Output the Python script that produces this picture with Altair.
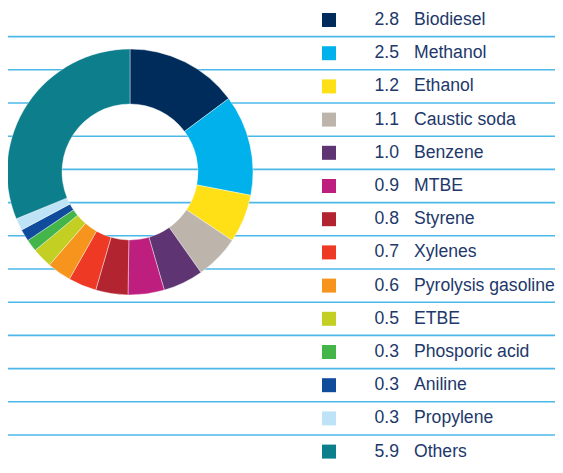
import altair as alt
import pandas as pd

labels = ["Biodiesel", "Methanol", "Ethanol", "Caustic soda", "Benzene", "MTBE",
          "Styrene", "Xylenes", "Pyrolysis gasoline", "ETBE", "Phosporic acid",
          "Aniline", "Propylene", "Others"]
values = [2.8, 2.5, 1.2, 1.1, 1.0, 0.9, 0.8, 0.7, 0.6, 0.5, 0.3, 0.3, 0.3, 5.9]
value_text = ["2.8", "2.5", "1.2", "1.1", "1.0", "0.9", "0.8", "0.7", "0.6", "0.5",
              "0.3", "0.3", "0.3", "5.9"]
colors = ["#002c5c", "#00b1eb", "#ffe016", "#bdb5ab", "#5e3473", "#be1e7d",
          "#b22530", "#ee3a24", "#f7941d", "#c3cf22", "#43b549", "#0f4d9c",
          "#bfe3f6", "#0d7e8c"]

W, H = 547, 457
STEP = 33.2
TOP = 12
df = pd.DataFrame({
    "label": labels,
    "value": values,
    "vtext": value_text,
    "row": list(range(len(labels))),
})
df["line"] = df["row"] - 0.5

# row i centred at TOP + STEP*i px from the top of the plot
yscale = alt.Scale(domain=[-TOP / STEP, (H - TOP) / STEP], reverse=True)
cscale = alt.Scale(domain=labels, range=colors)

base = alt.Chart(df)

rules = base.mark_rule(color="#4cb8e8", strokeWidth=1.6).encode(
    y=alt.Y("line:Q", scale=yscale, axis=None),
    x=alt.value(0), x2=alt.value(W),
)

donut = base.mark_arc(outerRadius=123, innerRadius=68, stroke="white",
                      strokeWidth=0.4).encode(
    theta=alt.Theta("value:Q", stack=True),
    color=alt.Color("label:N", scale=cscale, legend=None),
    order=alt.Order("row:Q", sort="ascending"),
    x=alt.value(122), y=alt.value(164),
)

squares = base.mark_square(size=196, opacity=1).encode(
    y=alt.Y("row:Q", scale=yscale, axis=None),
    x=alt.value(321),
    color=alt.Color("label:N", scale=cscale, legend=None),
)

nums = base.mark_text(align="right", baseline="middle", font="Liberation Sans",
                      fontSize=17.6, color="#22386a").encode(
    y=alt.Y("row:Q", scale=yscale, axis=None),
    x=alt.value(391),
    text="vtext:N",
)

names = base.mark_text(align="left", baseline="middle", font="Liberation Sans",
                       fontSize=17.6, color="#22386a").encode(
    y=alt.Y("row:Q", scale=yscale, axis=None),
    x=alt.value(406),
    text="label:N",
)

chart = alt.layer(rules, donut, squares, nums, names).properties(
    width=W, height=H, padding=0, autosize=alt.AutoSizeParams(type="none"),
).configure_view(stroke=None)

chart.save("out.html", embed_options={"renderer": "svg", "actions": False})
